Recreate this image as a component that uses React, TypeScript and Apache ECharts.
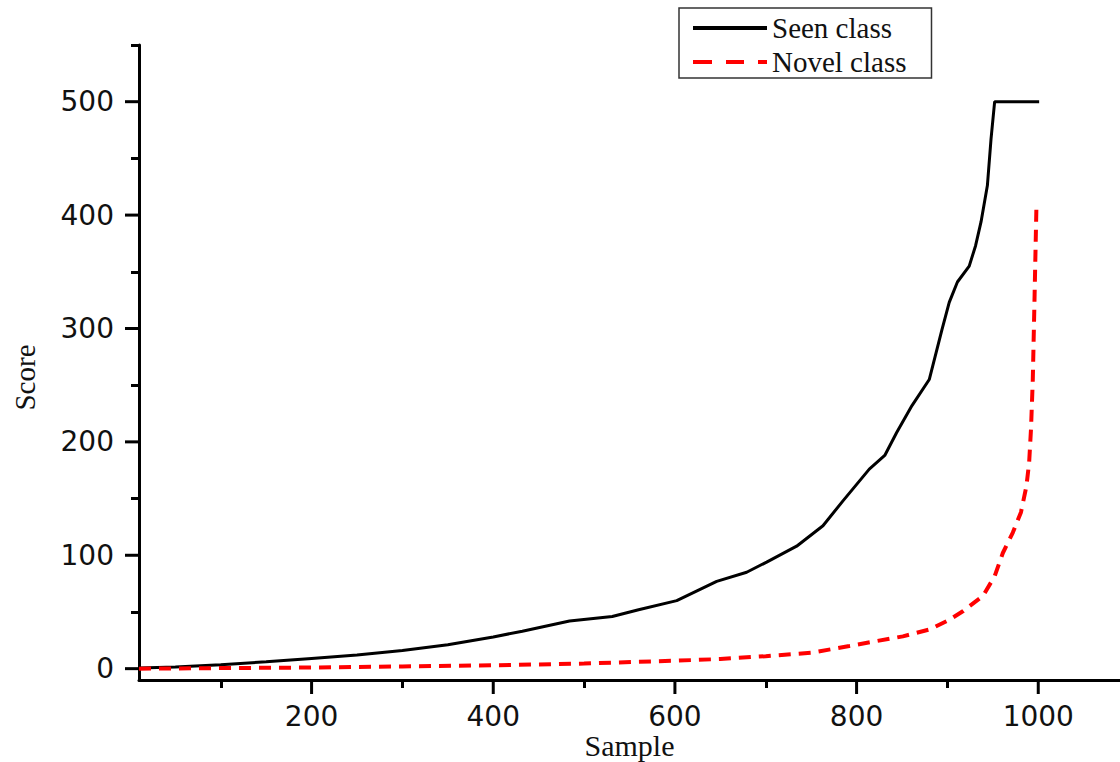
import React, { useEffect, useRef } from "react";
import * as echarts from "echarts";

const seenSample = [10, 50, 100, 150, 200, 250, 300, 350, 400, 432, 484, 531, 560, 602, 646, 679, 701, 734, 763, 785, 814, 831, 844, 861, 880, 894, 902, 911, 924, 931, 937, 944, 948, 952, 1001];
const seenScore = [0.5, 1.5, 3.5, 6, 9, 12, 16, 21, 28, 33, 42, 46, 52, 60, 77, 85, 94, 108, 126, 148, 176, 188, 208, 232, 255, 299, 323, 341, 355, 373, 394, 426, 467, 500, 500];

const novelSample = [10, 100, 200, 300, 400, 500, 600, 650, 700, 750, 792, 851, 880, 902, 917, 939, 952, 961, 972, 981, 987, 990, 992, 994, 996, 998];
const novelScore = [0, 0.5, 1, 2, 3, 4.5, 7, 8.5, 11, 14, 20, 28.5, 34.5, 43, 50.6, 64, 81.5, 102, 120, 138, 161, 182, 211, 255, 330, 408];

// axis ranges, tick labels and minor tick settings
const xMin = 10, xMax = 1090;
const yMin = -10, yMax = 550;
const xTickLabels = [200, 400, 600, 800, 1000];
const yTickLabels = [0, 100, 200, 300, 400, 500];
const xMinor = { min: 100, max: 900, step: 200 };
const yMinor = { min: 50, max: 550, step: 100 };

const seriesNames = ["Seen class", "Novel class"];

export default function App() {
  const ref = useRef<HTMLDivElement>(null);
  useEffect(() => {
    document.body.style.margin = "0";
    const chart = echarts.init(ref.current!, null, { renderer: "svg" });

    const W = 1120, H = 762;
    const gL = 139, gR = 0, gT = 45, gB = 82;
    const pxPerX = (W - gL - gR) / (xMax - xMin);
    const pxPerY = (H - gT - gB) / (yMax - yMin);
    const xPix = (s: number) => gL + (s - xMin) * pxPerX;
    const yPix = (v: number) => H - gB - (v - yMin) * pxPerY;

    const tickStyle = { color: "#000", width: 3 };
    const majorLen = 14;
    const labelFontCss = "28px 'DejaVu Sans'";
    const dummy = (gridIndex: number) => ({ type: "value", gridIndex, min: 0, max: 1, show: false });
    const tickAxis = (gridIndex: number, r: { min: number; max: number; step: number }, len: number) => ({
      type: "value",
      gridIndex,
      min: r.min,
      max: r.max,
      interval: r.step,
      axisLine: { show: false },
      axisTick: { show: true, length: len, lineStyle: tickStyle },
      axisLabel: { show: false },
      splitLine: { show: false },
    });
    const g = (left: number, right: number, top: number, bottom: number) => ({
      left, right, top, bottom, containLabel: false, outerBoundsMode: "none",
    });

    chart.setOption({
      animation: false,
      backgroundColor: "#fff",
      grid: [
        g(gL, gR, gT, gB),
        g(gL, gR, yPix(yMinor.max), H - yPix(yMinor.min)),
        g(xPix(xMinor.min), W - xPix(xMinor.max), gT, gB),
      ],
      legend: {
        orient: "vertical",
        left: 679,
        top: 8,
        data: [
          { name: seriesNames[0], icon: "path://M0,0h74v4h-74z" },
          { name: seriesNames[1], icon: "path://M0,0h19v4h-19z M33,0h18v4h-18z M65,0h9v4h-9z" },
        ],
        itemWidth: 74,
        itemHeight: 4,
        itemGap: 4,
        padding: [5, 25, 1, 14],
        borderColor: "#333",
        borderWidth: 1.5,
        textStyle: { fontFamily: "Liberation Serif", fontSize: 29, color: "#111", lineHeight: 30 },
      },
      xAxis: [
        {
          type: "value",
          gridIndex: 0,
          min: xMin,
          max: xMax,
          name: "Sample",
          nameLocation: "middle",
          nameGap: 50,
          nameMoveOverlap: false,
          nameTextStyle: { fontFamily: "Liberation Serif", fontSize: 30, color: "#111", lineHeight: 30 },
          axisLine: { show: true, onZero: false, lineStyle: { color: "#000", width: 3 } },
          axisTick: { show: false },
          axisLabel: { show: false },
          splitLine: { show: false },
        },
        dummy(1),
        tickAxis(2, xMinor, 8),
      ],
      yAxis: [
        {
          type: "value",
          gridIndex: 0,
          min: yMin,
          max: yMax,
          name: "Score",
          nameLocation: "middle",
          nameGap: 100,
          nameRotate: 90,
          nameTextStyle: { fontFamily: "Liberation Serif", fontSize: 29, color: "#111", padding: [0, 30, 0, 0] },
          axisLine: { show: true, onZero: false, lineStyle: { color: "#000", width: 3 } },
          axisTick: { show: false },
          axisLabel: { show: false },
          splitLine: { show: false },
        },
        tickAxis(1, yMinor, 8),
        dummy(2),
      ],
      series: [
        {
          name: seriesNames[0],
          type: "line",
          xAxisIndex: 0,
          yAxisIndex: 0,
          data: seenSample.map((s, i) => [s, seenScore[i]]),
          showSymbol: false,
          symbol: "none",
          lineStyle: { color: "#000", width: 3 },
          itemStyle: { color: "#000" },
        },
        {
          name: seriesNames[1],
          type: "line",
          xAxisIndex: 0,
          yAxisIndex: 0,
          data: novelSample.map((s, i) => [s, novelScore[i]]),
          showSymbol: false,
          symbol: "none",
          lineStyle: { color: "#ff0000", width: 4, type: [12, 8] },
          itemStyle: { color: "#ff0000" },
        },
        {
          name: "xMajorTicks",
          type: "custom",
          xAxisIndex: 0,
          yAxisIndex: 0,
          clip: false,
          silent: true,
          z: 20,
          data: xTickLabels.map((v) => [v, yMin]),
          renderItem: (_p: any, api: any) => {
            const v = api.value(0);
            const pt = api.coord([v, api.value(1)]);
            return {
              type: "group",
              children: [
                {
                  type: "rect",
                  shape: { x: pt[0] - 1.5, y: pt[1], width: 3, height: majorLen },
                  style: { fill: "#000" },
                },
                {
                  type: "text",
                  x: pt[0],
                  y: pt[1] + 22,
                  style: { text: String(v), font: labelFontCss, fill: "#111", align: "center", verticalAlign: "top" },
                },
              ],
            };
          },
        },
        {
          name: "yMajorTicks",
          type: "custom",
          xAxisIndex: 0,
          yAxisIndex: 0,
          clip: false,
          silent: true,
          z: 20,
          data: yTickLabels.map((v) => [xMin, v]),
          renderItem: (_p: any, api: any) => {
            const v = api.value(1);
            const pt = api.coord([api.value(0), v]);
            return {
              type: "group",
              children: [
                {
                  type: "rect",
                  shape: { x: pt[0] - majorLen, y: pt[1] - 1.5, width: majorLen, height: 3 },
                  style: { fill: "#000" },
                },
                {
                  type: "text",
                  x: pt[0] - 25,
                  y: pt[1],
                  style: { text: String(v), font: labelFontCss, fill: "#111", align: "right", verticalAlign: "middle" },
                },
              ],
            };
          },
        },
      ],
    });

    return () => chart.dispose();
  }, []);
  return <div ref={ref} style={{ width: 1120, height: 762 }} />;
}
